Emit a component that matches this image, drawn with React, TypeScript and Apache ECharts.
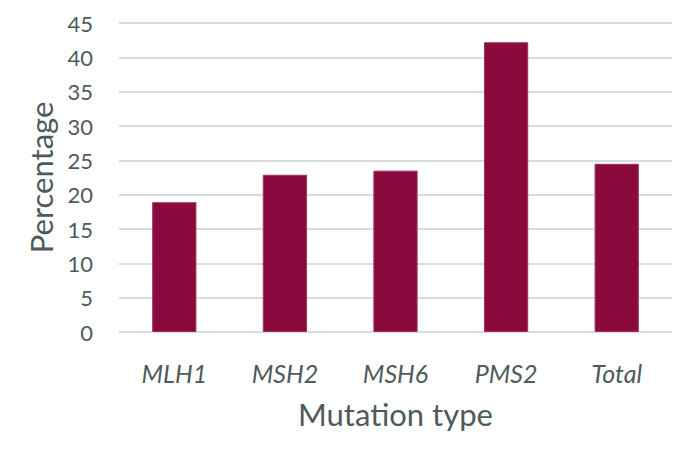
import React, { useEffect, useRef } from "react";
import * as echarts from "echarts";

const categories = ["MLH1", "MSH2", "MSH6", "PMS2", "Total"];
const percentages = [18.9, 22.9, 23.5, 42.2, 24.5];
const yTicks = { min: 0, max: 45, interval: 5 };

export default function App() {
  const ref = useRef<HTMLDivElement>(null);
  useEffect(() => {
    if (!ref.current) return;
    const chart = echarts.init(ref.current, null, { renderer: "svg" });
    const textColor = "#4f5b5b";
    chart.setOption({
      animation: false,
      backgroundColor: "#ffffff",
      grid: { left: 119, right: 16, top: 23, bottom: 126 },
      xAxis: {
        type: "category",
        data: categories,
        name: "Mutation type",
        nameLocation: "middle",
        nameGap: 66,
        nameTextStyle: { fontFamily: "Lato", fontSize: 31, color: textColor },
        axisLine: { show: false },
        axisTick: { show: false },
        axisLabel: {
          margin: 28,
          fontFamily: "Lato",
          fontStyle: "italic",
          fontSize: 25,
          color: textColor,
        },
      },
      yAxis: {
        type: "value",
        min: yTicks.min,
        max: yTicks.max,
        interval: yTicks.interval,
        name: "Percentage",
        nameLocation: "middle",
        nameGap: 63,
        nameTextStyle: { fontFamily: "Lato", fontSize: 31, color: textColor },
        axisLine: { show: false },
        axisTick: { show: false },
        axisLabel: { margin: 26, fontFamily: "Lato", fontSize: 22, color: textColor },
        splitLine: { lineStyle: { color: "#d6dedb", width: 2 } },
      },
      series: [
        {
          type: "bar",
          data: percentages,
          barWidth: "40%",
          itemStyle: { color: "#8b0a3e", borderColor: "#a3305a", borderWidth: 1 },
        },
      ],
    });
    return () => chart.dispose();
  }, []);
  return <div ref={ref} style={{ width: 688, height: 458, position: "absolute", left: 0, top: 0 }} />;
}
